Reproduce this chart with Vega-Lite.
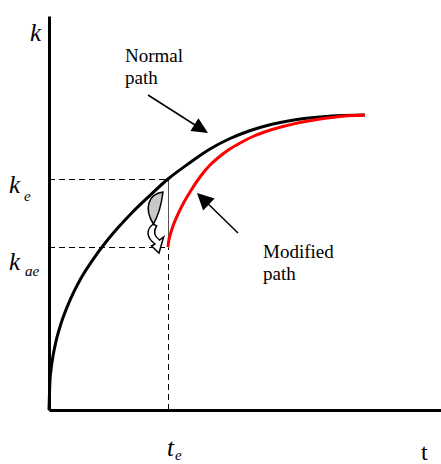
{
  "$schema": "https://vega.github.io/schema/vega-lite/v6.json",
  "width": 392,
  "height": 394,
  "padding": {"left": 49, "top": 16, "right": 0, "bottom": 54},
  "autosize": {"type": "none"},
  "background": "white",
  "config": {"view": {"stroke": null}},
  "datasets": {
    "dashed": [
      {"u": 0, "v": 230.5, "u2": 119.5, "v2": 230.5},
      {"u": 0, "v": 162.5, "u2": 119.5, "v2": 162.5},
      {"u": 119.5, "v": 0, "u2": 119.5, "v2": 162.5}
    ],
    "thin": [{"u": 119.5, "v": 162.5, "u2": 119.5, "v2": 230.5}],
    "normal": [
      {"u": 0, "v": 0}, {"u": 1, "v": 29.9}, {"u": 2, "v": 40.2}, {"u": 4, "v": 54},
      {"u": 7, "v": 68.6}, {"u": 12, "v": 86.4}, {"u": 20, "v": 107.5}, {"u": 31, "v": 130},
      {"u": 45, "v": 151.9}, {"u": 62, "v": 174.2}, {"u": 82, "v": 196.3}, {"u": 100, "v": 213.7},
      {"u": 119, "v": 231}, {"u": 140, "v": 246.7}, {"u": 161, "v": 261}, {"u": 180, "v": 271},
      {"u": 200, "v": 279}, {"u": 222, "v": 285.5}, {"u": 248, "v": 290.5}, {"u": 280, "v": 293.8},
      {"u": 316, "v": 295}
    ],
    "modified": [
      {"u": 119, "v": 163}, {"u": 119.5, "v": 167.6}, {"u": 121, "v": 174.5}, {"u": 124, "v": 184},
      {"u": 128, "v": 193.7}, {"u": 134, "v": 206}, {"u": 141, "v": 218}, {"u": 151, "v": 233},
      {"u": 161, "v": 245}, {"u": 170, "v": 253}, {"u": 180, "v": 260.5}, {"u": 192, "v": 267.5},
      {"u": 205, "v": 274}, {"u": 220, "v": 279.5}, {"u": 236, "v": 284}, {"u": 252, "v": 287.8},
      {"u": 268, "v": 290.6}, {"u": 285, "v": 292.8}, {"u": 300, "v": 294.2}, {"u": 316, "v": 295}
    ],
    "shafts": [
      {"u": 99, "v": 315, "u2": 157, "v2": 278},
      {"u": 189, "v": 177, "u2": 150, "v2": 215}
    ],
    "head1": [{"u": 159, "v": 277}],
    "head2": [{"u": 148, "v": 217}],
    "swirl": [{"u": 106, "v": 189}],
    "bigItalic": [
      {"u": -19, "v": 369, "label": "k"},
      {"u": -40, "v": 217, "label": "k"},
      {"u": -40, "v": 140, "label": "k"},
      {"u": 118, "v": -46, "label": "t"}
    ],
    "subs": [
      {"u": -25, "v": 209, "label": "e"},
      {"u": -24, "v": 134, "label": "ae"},
      {"u": 126, "v": -50, "label": "e"}
    ],
    "tlabel": [{"u": 372, "v": -50, "label": "t"}],
    "notes": [
      {"u": 76, "v": 348, "label": "Normal"},
      {"u": 76, "v": 326, "label": "path"},
      {"u": 214, "v": 152, "label": "Modified"},
      {"u": 214, "v": 130, "label": "path"}
    ]
  },
  "encoding": {
    "x": {
      "field": "u", "type": "quantitative",
      "scale": {"domain": [0, 392], "nice": false, "zero": false},
      "axis": {"domainColor": "#000", "domainWidth": 3, "ticks": false, "labels": false, "grid": false, "title": null}
    },
    "y": {
      "field": "v", "type": "quantitative",
      "scale": {"domain": [0, 394], "nice": false, "zero": false},
      "axis": {"domainColor": "#000", "domainWidth": 3, "ticks": false, "labels": false, "grid": false, "title": null}
    }
  },
  "layer": [
    {
      "data": {"name": "dashed"},
      "mark": {"type": "rule", "color": "#000", "strokeWidth": 1, "strokeDash": [6, 4]},
      "encoding": {"x2": {"field": "u2"}, "y2": {"field": "v2"}}
    },
    {
      "data": {"name": "thin"},
      "mark": {"type": "rule", "color": "#555", "strokeWidth": 1},
      "encoding": {"x2": {"field": "u2"}, "y2": {"field": "v2"}}
    },
    {
      "data": {"name": "normal"},
      "mark": {"type": "line", "color": "#000", "strokeWidth": 3, "interpolate": "monotone"},
      "encoding": {}
    },
    {
      "data": {"name": "modified"},
      "mark": {"type": "line", "color": "#ff0000", "strokeWidth": 3, "interpolate": "monotone"},
      "encoding": {}
    },
    {
      "data": {"name": "shafts"},
      "mark": {"type": "rule", "color": "#000", "strokeWidth": 1.5},
      "encoding": {"x2": {"field": "u2"}, "y2": {"field": "v2"}}
    },
    {
      "data": {"name": "head1"},
      "mark": {"type": "point", "shape": "M0,0L0.47,1L-0.47,1Z", "filled": true, "color": "#000", "size": 1024, "angle": 122, "opacity": 1}
    },
    {
      "data": {"name": "head2"},
      "mark": {"type": "point", "shape": "M0,0L0.5,1L-0.5,1Z", "filled": true, "color": "#000", "size": 1089, "angle": 314, "opacity": 1}
    },
    {
      "data": {"name": "swirl"},
      "mark": {"type": "point", "shape": "M-0.05,0.094C-0.31,0.281,-0.25,0.531,0,0.719L-0.11,0.781L0.125,1L0.27,0.5L0.14,0.594C-0.03,0.469,-0.05,0.3125,0.05,0.156Z", "filled": true, "fill": "#fff", "stroke": "#000", "strokeWidth": 1.5, "size": 4096, "opacity": 1}
    },
    {
      "data": {"name": "swirl"},
      "mark": {"type": "point", "shape": "M0.25,-0.906C-0.2,-0.85,-0.36,-0.4,-0.05,0.094C0.06,-0.094,0.2,-0.5,0.25,-0.906Z", "filled": true, "fill": "#c8c8c8", "stroke": "#000", "strokeWidth": 1.5, "size": 4096, "opacity": 1}
    },
    {
      "data": {"name": "bigItalic"},
      "mark": {"type": "text", "font": "Liberation Serif", "fontStyle": "italic", "fontSize": 25, "align": "left", "baseline": "alphabetic", "color": "#000"},
      "encoding": {"text": {"field": "label"}}
    },
    {
      "data": {"name": "subs"},
      "mark": {"type": "text", "font": "Liberation Serif", "fontStyle": "italic", "fontSize": 15, "align": "left", "baseline": "alphabetic", "color": "#000"},
      "encoding": {"text": {"field": "label"}}
    },
    {
      "data": {"name": "tlabel"},
      "mark": {"type": "text", "font": "Liberation Serif", "fontSize": 24, "align": "left", "baseline": "alphabetic", "color": "#000"},
      "encoding": {"text": {"field": "label"}}
    },
    {
      "data": {"name": "notes"},
      "mark": {"type": "text", "font": "Liberation Serif", "fontSize": 19, "align": "left", "baseline": "alphabetic", "color": "#000"},
      "encoding": {"text": {"field": "label"}}
    }
  ]
}
